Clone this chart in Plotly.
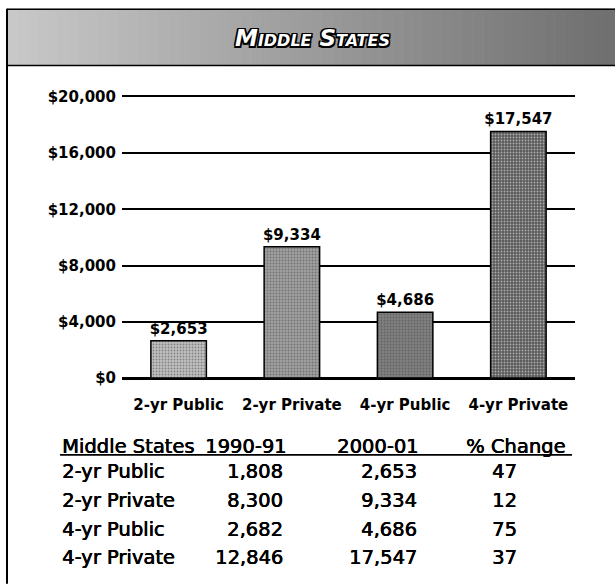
import plotly.graph_objects as go

# Average tuition and fees, Middle States
categories = ["2-yr Public", "2-yr Private", "4-yr Public", "4-yr Private"]
tuition_1990 = [1808, 8300, 2682, 12846]
tuition_2000 = [2653, 9334, 4686, 17547]
pct_change = [47, 12, 75, 37]
y_tick_values = [0, 4000, 8000, 12000, 16000, 20000]
y_tick_labels = ["$0", "$4,000", "$8,000", "$12,000", "$16,000", "$20,000"]
table_headers = ["Middle States", "1990-91", "2000-01", "% Change"]
region_title = "Middle States"

bar_colors = ["#c0c0c0", "#a0a0a0", "#808080", "#5a5a5a"]
pattern_colors = ["#858585", "#666666", "#464646", "#262626"]

W, H = 615, 584
L, R, T, B = 122, 40, 96.5, 206


def px_x(px):
    return (px - L) / (W - L - R)


def px_y(py):
    return (H - B - py) / (H - T - B)


fig = go.Figure(
    go.Bar(
        x=categories,
        y=tuition_2000,
        width=0.49,
        marker=dict(
            color=bar_colors,
            line=dict(color="black", width=1.5),
            pattern=dict(shape=".", fgcolor=pattern_colors, size=3,
                         solidity=0.3, fillmode="overlay"),
        ),
        texttemplate="$%{y:,}",
        textposition="outside",
        textfont=dict(family="DejaVu Sans", size=15, color="black", weight="bold"),
        cliponaxis=False,
        hoverinfo="skip",
    )
)

shapes = []
# shaded title band, light on the left to dark on the right
n_strips = 60
x0, x1 = 7, W
for i in range(n_strips):
    g = int(200 - (200 - 112) * i / (n_strips - 1))
    sx0 = x0 + (x1 - x0) * i / n_strips
    sx1 = x0 + (x1 - x0) * (i + 1) / n_strips + 0.6
    shapes.append(dict(type="rect", xref="paper", yref="paper",
                       x0=px_x(sx0), x1=px_x(sx1), y0=px_y(65), y1=px_y(8),
                       fillcolor=f"rgb({g},{g},{g})", line=dict(width=0), layer="below"))
# band outline
shapes.append(dict(type="line", xref="paper", yref="paper",
                   x0=px_x(7), x1=px_x(W), y0=px_y(8.5), y1=px_y(8.5),
                   line=dict(color="black", width=1.5)))
shapes.append(dict(type="line", xref="paper", yref="paper",
                   x0=px_x(7), x1=px_x(W), y0=px_y(65), y1=px_y(65),
                   line=dict(color="black", width=1.5)))
# left frame rule
shapes.append(dict(type="line", xref="paper", yref="paper",
                   x0=px_x(7), x1=px_x(7), y0=px_y(8), y1=px_y(H),
                   line=dict(color="black", width=2)))
# table header underline
shapes.append(dict(type="line", xref="paper", yref="paper",
                   x0=px_x(60), x1=px_x(572), y0=px_y(455), y1=px_y(455),
                   line=dict(color="black", width=1.8)))

annotations = [
    dict(text=region_title, xref="paper", yref="paper", x=px_x(312), y=px_y(37),
         xanchor="center", yanchor="middle", showarrow=False,
         font=dict(family="DejaVu Sans", size=23, color="white", weight="bold",
                   style="italic", variant="small-caps",
                   shadow="-1.5px -1.5px 0 #000, 1.5px -1.5px 0 #000, "
                          "-1.5px 1.5px 0 #000, 1.5px 1.5px 0 #000, "
                          "0 1.5px 0 #000, 0 -1.5px 0 #000, 1.5px 0 0 #000, -1.5px 0 0 #000")),
]

# slightly heavier strokes for the table text
table_font = dict(family="DejaVu Sans", size=19.5, color="black",
                  shadow="0.5px 0 0 #000, 0 0.3px 0 #000")
header_y = 447
row_y = [472, 501, 530, 558]
header_pos = [(60, "left"), (288, "right"), (420, "right"), (567, "right")]
for text, (hx, anchor) in zip(table_headers, header_pos):
    annotations.append(dict(text=text, xref="paper", yref="paper", x=px_x(hx), y=px_y(header_y),
                            xanchor=anchor, yanchor="middle", showarrow=False, font=table_font))

for i, cat in enumerate(categories):
    yy = px_y(row_y[i])
    annotations.append(dict(text=cat, xref="paper", yref="paper", x=px_x(60), y=yy,
                            xanchor="left", yanchor="middle", showarrow=False, font=table_font))
    annotations.append(dict(text=f"{tuition_1990[i]:,}", xref="paper", yref="paper", x=px_x(285), y=yy,
                            xanchor="right", yanchor="middle", showarrow=False, font=table_font))
    annotations.append(dict(text=f"{tuition_2000[i]:,}", xref="paper", yref="paper", x=px_x(419), y=yy,
                            xanchor="right", yanchor="middle", showarrow=False, font=table_font))
    annotations.append(dict(text=f"{pct_change[i]}", xref="paper", yref="paper", x=px_x(504), y=yy,
                            xanchor="center", yanchor="middle", showarrow=False, font=table_font))

fig.update_layout(
    width=W, height=H,
    margin=dict(l=L, r=R, t=T, b=B, pad=0),
    paper_bgcolor="white",
    plot_bgcolor="white",
    showlegend=False,
    shapes=shapes,
    annotations=annotations,
    uniformtext=dict(minsize=15, mode="show"),
    xaxis=dict(
        showgrid=False, zeroline=False,
        showline=True, mirror=True, linecolor="black", linewidth=1.5,
        ticks="",
        tickfont=dict(family="DejaVu Sans", size=15, color="black", weight="bold"),
        ticklabelstandoff=12,
    ),
    yaxis=dict(
        range=[0, 20000],
        tickvals=y_tick_values, ticktext=y_tick_labels,
        showgrid=True, gridcolor="black", gridwidth=1.5,
        zeroline=True, zerolinecolor="black", zerolinewidth=1.5,
        showline=False, ticks="",
        tickfont=dict(family="DejaVu Sans", size=15, color="black", weight="bold"),
        ticklabelstandoff=5,
    ),
)

fig.write_html("out.html")
